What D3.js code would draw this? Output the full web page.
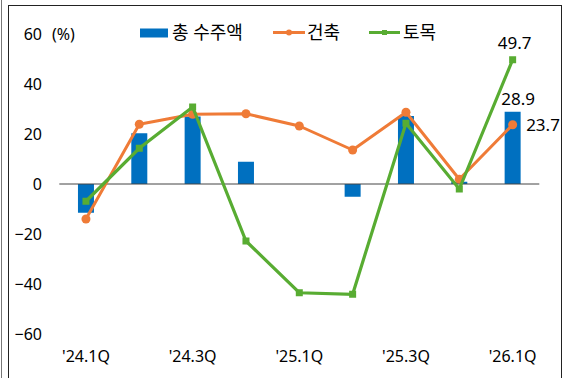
<!DOCTYPE html>
<html>
<head>
<meta charset="utf-8">
<script src="https://cdn.jsdelivr.net/npm/d3@7"></script>
<style>
  html, body { margin: 0; padding: 0; background: #fff; }
  svg { display: block; font-family: "Noto Sans", "Noto Sans CJK KR", sans-serif; }
</style>
</head>
<body>
<svg id="chart" width="565" height="378"></svg>
<script>
// Quarterly order growth (YoY, %)
const quarters = ["'24.1Q", "'24.2Q", "'24.3Q", "'24.4Q", "'25.1Q", "'25.2Q", "'25.3Q", "'25.4Q", "'26.1Q"];
const totalOrders = [-11.5, 20.3, 27.0, 8.9, 0.0, -5.1, 27.2, 0.9, 28.9];
const building = [-14.0, 23.9, 27.9, 28.1, 23.2, 13.6, 28.7, 1.9, 23.7];
const civil = [-6.9, 14.3, 30.8, -22.8, -43.5, -44.1, 24.3, -2.0, 49.7];
const yTicks = [60, 40, 20, 0, -20, -40, -60];
const xTickLabels = ["'24.1Q", "'24.3Q", "'25.1Q", "'25.3Q", "'26.1Q"];
const legendNames = ["총 수주액", "건축", "토목"];

const BLUE = "#0070C0", ORANGE = "#EF7B37", GREEN = "#58AC32";
const TEXT = "#000";

const svg = d3.select("#chart");

// outer frames
svg.append("line").attr("x1", 1.5).attr("x2", 1.5).attr("y1", 0).attr("y2", 378)
  .attr("stroke", "#777").attr("stroke-width", 1);
svg.append("rect").attr("x", 8.5).attr("y", 5.5).attr("width", 553).attr("height", 380)
  .attr("fill", "none").attr("stroke", "#222").attr("stroke-width", 1);

const x = d3.scaleBand().domain(quarters).range([59.3, 539.3])
  .paddingInner(0.7).paddingOuter(0.35);
const y = d3.scaleLinear().domain([-60, 60]).range([334, 34]);
const cx = d => x(d) + x.bandwidth() / 2;

// y axis labels
const yAxis = svg.append("g").attr("transform", "translate(42,0)")
  .call(d3.axisLeft(y).tickValues(yTicks).tickSize(0).tickPadding(0).tickFormat(d3.format("d")));
yAxis.select(".domain").remove();
yAxis.selectAll("text").attr("font-size", 16).attr("fill", TEXT)
  .attr("font-family", "'Noto Sans', sans-serif");

svg.append("text").attr("x", 52).attr("y", y(60)).attr("dy", "0.35em")
  .attr("font-size", 16).attr("fill", TEXT).text("(%)");

// x axis labels (every other quarter)
const xAxis = svg.append("g").attr("transform", "translate(0,351)")
  .call(d3.axisBottom(x).tickValues(xTickLabels).tickSize(0).tickPadding(0));
xAxis.select(".domain").remove();
xAxis.selectAll("text").attr("font-size", 16).attr("fill", TEXT)
  .attr("font-family", "'Noto Sans', sans-serif");

// bars
svg.append("g").selectAll("rect").data(quarters).join("rect")
  .attr("x", d => x(d))
  .attr("width", x.bandwidth())
  .attr("y", (d, i) => y(Math.max(0, totalOrders[i])))
  .attr("height", (d, i) => Math.abs(y(totalOrders[i]) - y(0)))
  .attr("fill", BLUE);

// zero line
svg.append("line").attr("x1", x.range()[0]).attr("x2", x.range()[1])
  .attr("y1", y(0)).attr("y2", y(0)).attr("stroke", "#444").attr("stroke-width", 1);

const line = d3.line().x((d, i) => cx(quarters[i])).y(d => y(d));

// building series
svg.append("path").datum(building).attr("d", line)
  .attr("fill", "none").attr("stroke", ORANGE).attr("stroke-width", 3).attr("stroke-linejoin", "round");
svg.append("g").selectAll("circle").data(building).join("circle")
  .attr("cx", (d, i) => cx(quarters[i])).attr("cy", d => y(d)).attr("r", 4.5).attr("fill", ORANGE);

// civil series
svg.append("path").datum(civil).attr("d", line)
  .attr("fill", "none").attr("stroke", GREEN).attr("stroke-width", 3.2).attr("stroke-linejoin", "miter");
svg.append("g").selectAll("rect").data(civil).join("rect")
  .attr("x", (d, i) => cx(quarters[i]) - 3.5).attr("y", d => y(d) - 3.5)
  .attr("width", 7).attr("height", 7).attr("fill", GREEN);

// value labels for the latest quarter
const last = quarters.length - 1;
const lx = cx(quarters[last]);
const valueLabel = (xx, yy, anchor, v) => svg.append("text").attr("x", xx).attr("y", yy)
  .attr("dy", "0.35em").attr("text-anchor", anchor).attr("font-size", 17).attr("fill", TEXT)
  .text(v.toFixed(1));
valueLabel(lx + 2, y(civil[last]) - 17, "middle", civil[last]);
valueLabel(lx + 5.5, y(totalOrders[last]) - 13, "middle", totalOrders[last]);
valueLabel(lx + 13.5, y(building[last]), "start", building[last]);

// legend
const lg = svg.append("g").attr("font-size", 18).attr("fill", TEXT);
lg.append("rect").attr("x", 140).attr("y", 28.5).attr("width", 28).attr("height", 9).attr("fill", BLUE);
lg.append("text").attr("x", 172).attr("y", 33).attr("dy", "0.36em").text(legendNames[0]);

lg.append("line").attr("x1", 273).attr("x2", 305).attr("y1", 32.5).attr("y2", 32.5)
  .attr("stroke", ORANGE).attr("stroke-width", 3);
lg.append("circle").attr("cx", 289).attr("cy", 32.5).attr("r", 3).attr("fill", ORANGE);
lg.append("text").attr("x", 307).attr("y", 33).attr("dy", "0.36em").text(legendNames[1]);

lg.append("line").attr("x1", 369).attr("x2", 400).attr("y1", 32.5).attr("y2", 32.5)
  .attr("stroke", GREEN).attr("stroke-width", 3);
lg.append("rect").attr("x", 382).attr("y", 30).attr("width", 5).attr("height", 5).attr("fill", GREEN);
lg.append("text").attr("x", 403).attr("y", 33).attr("dy", "0.36em").text(legendNames[2]);
</script>
</body>
</html>
